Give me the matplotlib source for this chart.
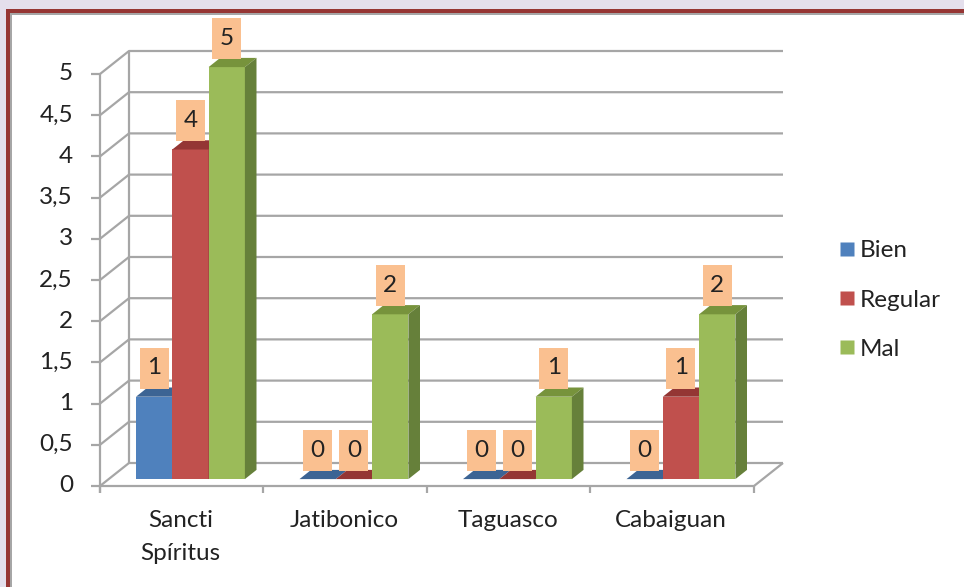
import matplotlib
matplotlib.use("Agg")
import matplotlib.pyplot as plt
from matplotlib.patches import Polygon, Rectangle
from matplotlib.lines import Line2D
import numpy as np

# ---------------- data ----------------
categories = ["Sancti\nSpíritus", "Jatibonico", "Taguasco", "Cabaiguan"]
series_names = ["Bien", "Regular", "Mal"]
bien = [1, 0, 0, 0]
regular = [4, 0, 0, 1]
mal = [5, 2, 1, 2]
y_ticks = [0, 0.5, 1, 1.5, 2, 2.5, 3, 3.5, 4, 4.5, 5]

# ---------------- styles ----------------
front_cols = ["#4F81BD", "#C0504D", "#9BBB59"]
top_cols = ["#3C6494", "#943634", "#77933C"]
side_cols = ["#385D8A", "#8A3A37", "#66803A"]
grid_col = "#A6A6A6"
label_box = "#FAC090"
FONT = "Lato"
FS = 17.5

W, H = 964, 587
fig = plt.figure(figsize=(W / 100, H / 100), dpi=100)
fig.patch.set_facecolor("#E4DFEC")

# outer frame (pixel layout)
def fr(x, y, w, h):
    return (x / W, 1 - (y + h) / H), w / W, h / H

for k, (x0, y0, col) in enumerate([(6, 9, "#963634"), (10, 13, "#A6A6A6"), (12, 15, "white")]):
    xy, w, h = fr(x0, y0, W + 20 - x0, H + 20 - y0)
    fig.patches.append(Rectangle(xy, w, h, transform=fig.transFigure,
                                 facecolor=col, edgecolor="none", zorder=-10 + k))

# axes covering whole figure; data coords: x = category units, y = value units
ax = fig.add_axes([0, 0, 1, 1])
ax.set_zorder(1)
ax.set_facecolor("none")
ax.set_axis_off()
PXX = 163.5          # pixels per category
PXY = 82.4           # pixels per value unit
X0 = 100             # pixel x of front value axis (category -0.5)
Y0 = 486             # pixel y (from top) of value 0 on front plane
ax.set_xlim(-0.5 - X0 / PXX, -0.5 + (W - X0) / PXX)
ax.set_ylim((Y0 - H) / PXY, Y0 / PXY)

DX = 29 / PXX        # wall depth (x)
DY = 23 / PXY        # wall depth (y)
n = len(categories)
xl, xr = -0.5, n - 0.5
ymax = y_ticks[-1]

# walls / grid
gkw = dict(color=grid_col, lw=1.6, zorder=1, solid_capstyle="butt")
for v in y_ticks:
    ax.plot([xl, xl + DX, xr + DX], [v, v + DY, v + DY], **gkw)
ax.plot([xl + DX, xl + DX], [DY, ymax + DY], **gkw)
ax.plot([xl, xl], [-7 / PXY, ymax], **gkw)
ax.plot([xl, xr, xr + DX], [0, 0, DY], **gkw)
for v in y_ticks:
    ax.plot([xl - 9 / PXX, xl], [v, v], **gkw)
    ax.text(xl - 27 / PXX, v, f"{v:g}".replace(".", ","), ha="right", va="center",
            fontsize=FS, family=FONT, color="#222222")
for k in range(n + 1):
    ax.plot([xl + k, xl + k], [0, -7 / PXY], **gkw)

# bars
f0, f1 = 0.3, 0.7
bw = 36.3 / PXX
dbx, dby = (f1 - f0) * DX, (f1 - f0) * DY
b0 = f0 * DY
values = [bien, regular, mal]
idx = np.arange(n)
for i in range(n):
    for j, vals in enumerate(values):
        v = vals[i]
        x = idx[i] - 1.5 * bw + j * bw + f0 * DX
        ax.bar(x, v, width=bw, bottom=b0, align="edge", color=front_cols[j],
               edgecolor="none", zorder=3)
        ax.add_patch(Polygon([(x, v + b0), (x + bw, v + b0), (x + bw + dbx, v + b0 + dby),
                              (x + dbx, v + b0 + dby)], closed=True,
                             facecolor=top_cols[j], edgecolor="none", zorder=3))
        if v > 0:
            ax.add_patch(Polygon([(x + bw, b0), (x + bw, v + b0), (x + bw + dbx, v + b0 + dby),
                                  (x + bw + dbx, b0 + dby)], closed=True,
                                 facecolor=side_cols[j], edgecolor="none", zorder=3))
        # data label box
        lw_, lh_ = 29 / PXX, 41 / PXY
        cx = x + bw / 2
        yb = v + b0 + dby - 1 / PXY
        ax.add_patch(Rectangle((cx - lw_ / 2, yb), lw_, lh_, facecolor=label_box,
                               edgecolor="none", zorder=5))
        ax.text(cx, yb + lh_ / 2, f"{v:g}", ha="center", va="center", fontsize=FS,
                family=FONT, color="#222222", zorder=6)

# category labels
for i, c in enumerate(categories):
    ax.text(idx[i] - 1 / PXX, -24 / PXY, c, ha="center", va="top", fontsize=FS,
            family=FONT, color="#222222", linespacing=1.68)

# legend
handles = [Line2D([], [], marker="s", linestyle="none", markersize=10,
                  markerfacecolor=front_cols[j], markeredgecolor="none")
           for j in range(3)]
leg = fig.legend(handles, series_names, loc="center left",
                 bbox_to_anchor=(840 / W, 1 - 300 / H), frameon=False,
                 prop={"family": FONT, "size": FS}, handlelength=0.6,
                 handletextpad=0.2, labelspacing=1.16, borderpad=0, borderaxespad=0)
for t in leg.get_texts():
    t.set_color("#222222")

fig.savefig("out.png", dpi=100, facecolor=fig.get_facecolor())
